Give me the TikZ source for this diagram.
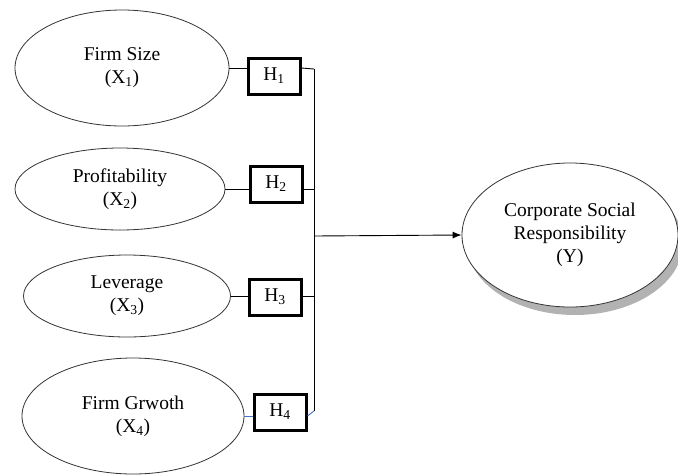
\documentclass[tikz,border=0pt]{standalone}
\usepackage{fontspec}
\setmainfont{Liberation Serif}
\usetikzlibrary{shapes.geometric,shadows,arrows.meta}

\definecolor{linkblue}{RGB}{68,114,196}

\begin{document}
\begin{tikzpicture}[x=1pt,y=-1pt,
    var/.style={draw=black!80, line width=0.8pt, ellipse, align=center, font=\fontsize{19.5}{23}\selectfont},
    hyp/.style={draw, line width=3pt, minimum width=52pt, minimum height=36pt, font=\fontsize{19.5}{23}\selectfont},
    link/.style={line width=0.9pt}]
        \useasboundingbox (0,0) rectangle (678,475);
        % independent variables
        \node[var, minimum width=214pt, minimum height=116pt] (x1) at (122,68) {Firm Size\\(X\textsubscript{1})};
        \node[var, minimum width=210pt, minimum height=82pt] (x2) at (120,189) {Profitability\\(X\textsubscript{2})};
        \node[var, minimum width=207pt, minimum height=82pt] (x3) at (127,296) {Leverage\\(X\textsubscript{3})};
        \node[var, minimum width=222pt, minimum height=116pt] (x4) at (133,416) {Firm Grwoth\\(X\textsubscript{4})};
        % hypotheses
        \node[hyp] (h1) at (274,76) {H\textsubscript{1}};
        \node[hyp] (h2) at (276,184) {H\textsubscript{2}};
        \node[hyp] (h3) at (275,297) {H\textsubscript{3}};
        \node[hyp] (h4) at (280,412) {H\textsubscript{4}};
        % dependent variable
        \node[var, minimum width=216pt, minimum height=144pt, fill=white,
            drop shadow={shadow xshift=5pt, shadow yshift=-8pt, fill=black!30, opacity=1}] (y) at (570,235)
            {Corporate Social\\Responsibility\\(Y)};
        % bus
        \coordinate (bustop) at (314,69);
        \coordinate (busmid) at (314,236);
        \coordinate (busbot) at (314,411);
        \draw[link] (bustop) -- (busbot);
        \draw[link] (x1.east) -- (x1.east -| h1.west);
        \draw[link] (h1.east |- x1.east) -- (bustop);
        \draw[link] (x2.east) -- (x2.east -| h2.west);
        \draw[link] (h2.east |- x2.east) -- (x2.east -| bustop);
        \draw[link] (x3.east) -- (x3.east -| h3.west);
        \draw[link] (h3.east |- x3.east) -- (x3.east -| bustop);
        \draw[link, linkblue] (x4.east) -- (x4.east -| h4.west);
        \draw[link, linkblue] (h4.east |- x4.east) -- (busbot);
        \draw[link, -{Latex[length=9pt,width=7pt]}] (busmid) -- (y.west);
    \end{tikzpicture}
\end{document}
